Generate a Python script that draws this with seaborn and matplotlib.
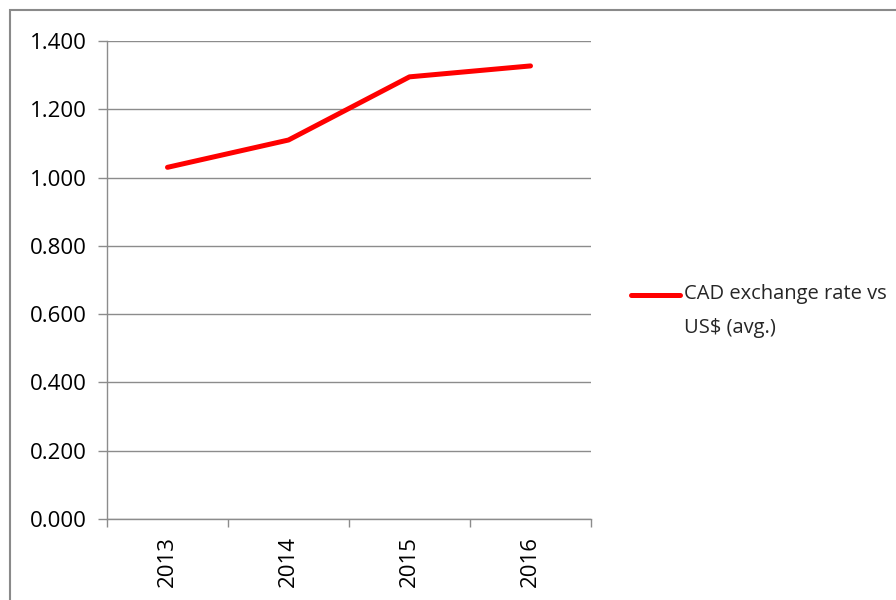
import matplotlib
matplotlib.use("Agg")
import matplotlib.pyplot as plt
import numpy as np
import pandas as pd
import seaborn as sns
from matplotlib.patches import Rectangle
from matplotlib.ticker import FixedLocator, FuncFormatter

years = ["2013", "2014", "2015", "2016"]
cad_rate = [1.030, 1.110, 1.295, 1.327]
series_label = "CAD exchange rate vs\nUS$ (avg.)"
y_ticks = [0.0, 0.2, 0.4, 0.6, 0.8, 1.0, 1.2, 1.4]

GRID = "#8c8c8c"

sns.set_theme(style="white")
plt.rcParams["font.family"] = ["Open Sans", "DejaVu Sans"]

df = pd.DataFrame({"pos": np.arange(len(years)), "rate": cad_rate})

fig = plt.figure(figsize=(8.96, 6.0), dpi=100)
ax = fig.add_axes([107 / 896, 81 / 600, (591 - 107) / 896, (519 - 41) / 600])

sns.lineplot(data=df, x="pos", y="rate", ax=ax, color="#ff0000", linewidth=3.6,
             solid_capstyle="round", solid_joinstyle="round", label=series_label)

ax.set_xlim(-0.5, len(years) - 0.5)
ax.set_ylim(0, 1.4)
ax.set_yticks(y_ticks)
ax.yaxis.set_major_formatter(FuncFormatter(lambda v, p: f"{v:.3f}"))
ax.yaxis.grid(True, color=GRID, linewidth=1)
ax.set_axisbelow(True)

ax.xaxis.set_major_locator(FixedLocator(np.arange(len(years) + 1) - 0.5))
ax.xaxis.set_major_formatter(FuncFormatter(lambda v, p: ""))
ax.xaxis.set_minor_locator(FixedLocator(np.arange(len(years))))
ax.set_xticks(np.arange(len(years)), years, minor=True, rotation=90)
ax.tick_params(axis="x", which="major", direction="out", length=6, width=1, color=GRID, bottom=True)
ax.tick_params(axis="x", which="minor", length=0, pad=12, labelsize=16, labelcolor="black")
ax.tick_params(axis="y", direction="out", length=6.5, width=1, color=GRID, left=True,
               labelsize=16, labelcolor="black", pad=8)
for lab in ax.get_xticklabels(minor=True):
    lab.set_verticalalignment("top")

for side in ["top", "right"]:
    ax.spines[side].set_visible(False)
for side in ["left", "bottom"]:
    ax.spines[side].set_color(GRID)
    ax.spines[side].set_linewidth(1)
ax.set_xlabel("")
ax.set_ylabel("")

leg = ax.legend(loc="upper left", bbox_to_anchor=(621 / 896, 1 - 274 / 600),
                bbox_transform=fig.transFigure, frameon=False, fontsize=14.5,
                handlelength=2.45, handletextpad=0.2, borderpad=0)
for t in leg.get_texts():
    t.set_linespacing(1.9)
# put the legend line next to the first text line, as Excel does
for h in leg.get_lines():
    h.set_ydata(np.asarray(h.get_ydata()) + 11.5)

fig.add_artist(Rectangle((10 / 896, -0.05), 1.2, 1 - 10 / 600 + 0.05,
                         transform=fig.transFigure, fill=False, edgecolor="#8a8a8a",
                         linewidth=1.5, clip_on=False))

fig.savefig("out.png", dpi=100)
